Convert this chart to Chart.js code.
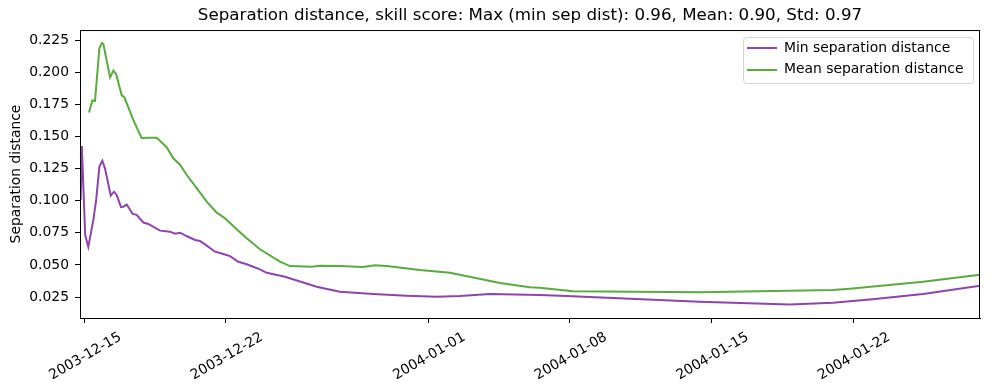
<!DOCTYPE html>
<html>
<head>
<meta charset="utf-8">
<script src="https://cdn.jsdelivr.net/npm/chart.js@4.4.1/dist/chart.umd.min.js"></script>
<style>
    html, body { margin: 0; padding: 0; background: #fff; }
    #wrap { width: 989px; height: 390px; }
</style>
</head>
<body>
<div id="wrap"><canvas id="sepChart" width="989" height="390"></canvas></div>
<script>
// values
var minTimes = ['2003-12-14 19:40', '2003-12-14 21:00', '2003-12-15 01:00', '2003-12-15 04:40', '2003-12-15 10:40',
    '2003-12-15 14:00', '2003-12-15 17:50', '2003-12-15 21:20', '2003-12-16 00:30', '2003-12-16 07:20',
    '2003-12-16 11:10', '2003-12-16 14:20', '2003-12-16 19:30', '2003-12-16 22:10', '2003-12-17 02:20',
    '2003-12-17 09:20', '2003-12-17 14:00', '2003-12-17 22:00', '2003-12-18 03:50', '2003-12-18 17:50',
    '2003-12-19 05:40', '2003-12-19 11:30', '2003-12-19 17:30', '2003-12-20 01:20', '2003-12-20 11:20',
    '2003-12-20 17:10', '2003-12-21 01:10', '2003-12-21 11:00', '2003-12-21 20:50', '2003-12-22 04:50',
    '2003-12-22 14:40', '2003-12-23 00:40', '2003-12-23 08:20', '2003-12-23 16:20', '2003-12-24 00:20',
    '2003-12-24 22:00', '2003-12-26 11:30', '2003-12-27 15:00', '2003-12-29 06:45', '2003-12-30 22:15',
    '2004-01-01 10:00', '2004-01-02 13:30', '2004-01-04 01:00', '2004-01-06 12:00', '2004-01-07 20:00',
    '2004-01-14 10:00', '2004-01-18 20:40', '2004-01-21 00:00', '2004-01-22 23:00', '2004-01-25 11:00',
    '2004-01-28 06:30'];
var minValues = [0.1006, 0.1426, 0.0733, 0.0640, 0.0850,
    0.1006, 0.1265, 0.1310, 0.1250, 0.1040,
    0.1070, 0.1045, 0.0950, 0.0953, 0.0970,
    0.0897, 0.0890, 0.0830, 0.0819, 0.0767,
    0.0759, 0.0743, 0.0751, 0.0725, 0.0694,
    0.0686, 0.0650, 0.0603, 0.0585, 0.0569,
    0.0525, 0.0505, 0.0486, 0.0466, 0.0439,
    0.0408, 0.0330, 0.0291, 0.0273, 0.0260,
    0.0252, 0.0258, 0.0273, 0.0266, 0.0258,
    0.0213, 0.0193, 0.0206, 0.0232, 0.0273,
    0.0338];

var meanTimes = ['2003-12-15 05:30', '2003-12-15 09:30', '2003-12-15 12:40', '2003-12-15 17:50', '2003-12-15 20:40',
    '2003-12-15 22:30', '2003-12-16 06:30', '2003-12-16 10:25', '2003-12-16 13:35', '2003-12-16 20:20',
    '2003-12-16 23:25', '2003-12-17 10:00', '2003-12-17 20:00', '2003-12-18 01:10', '2003-12-18 13:50',
    '2003-12-19 01:40', '2003-12-19 09:30', '2003-12-19 17:30', '2003-12-20 01:25', '2003-12-20 13:15',
    '2003-12-21 01:10', '2003-12-21 13:00', '2003-12-21 22:50', '2003-12-22 12:40', '2003-12-23 00:35',
    '2003-12-23 16:20', '2003-12-24 16:00', '2003-12-25 04:00', '2003-12-26 05:40', '2003-12-26 15:30',
    '2003-12-27 15:10', '2003-12-28 18:45', '2003-12-29 08:40', '2003-12-29 22:30', '2003-12-31 14:10',
    '2004-01-02 01:40', '2004-01-03 05:20', '2004-01-04 13:00', '2004-01-06 00:30', '2004-01-06 12:00',
    '2004-01-08 03:50', '2004-01-14 10:00', '2004-01-21 00:00', '2004-01-21 20:00', '2004-01-25 11:00',
    '2004-01-28 06:30'];
var meanValues = [0.1686, 0.1780, 0.1777, 0.2187, 0.2226,
    0.2220, 0.1960, 0.2013, 0.1987, 0.1820,
    0.1806, 0.1629, 0.1486, 0.1490, 0.1490,
    0.1416, 0.1330, 0.1280, 0.1200, 0.1097,
    0.0992, 0.0907, 0.0863, 0.0777, 0.0707,
    0.0622, 0.0525, 0.0491, 0.0486, 0.0494,
    0.0491, 0.0484, 0.0497, 0.0491, 0.0460,
    0.0439, 0.0403, 0.0360, 0.0326, 0.0322,
    0.0295, 0.0287, 0.0305, 0.0315, 0.0369,
    0.0424];

var xTickLabels = ['2003-12-15', '2003-12-22', '2004-01-01', '2004-01-08', '2004-01-15', '2004-01-22'];
var yTicks = [0.025, 0.050, 0.075, 0.100, 0.125, 0.150, 0.175, 0.200, 0.225];
var xStart = '2003-12-14 18:50';
var xEnd = '2004-01-28 06:30';

function toMs(s) {
    var p = s.split(/[- :]/).map(Number);
    return Date.UTC(p[0], p[1] - 1, p[2], p[3] || 0, p[4] || 0);
}

function fmtDate(ms) {
    var d = new Date(ms);
    var mm = ('0' + (d.getUTCMonth() + 1)).slice(-2);
    var dd = ('0' + d.getUTCDate()).slice(-2);
    return d.getUTCFullYear() + '-' + mm + '-' + dd;
}

function pairs(times, values) {
    return times.map((t, i) => ({ x: toMs(t), y: values[i] }));
}

var font = "'DejaVu Sans', sans-serif";
var fontSize = 13.9;

// legend sits inside the plot, top right, with a thin grey frame like matplotlib;
// the title is centred over the plot area rather than the whole canvas
var axesFrame = {
    id: 'axesFrame',
    afterLayout: function (chart) {
        var lg = chart.legend, area = chart.chartArea;
        if (chart.titleBlock) {
            chart.titleBlock.left = area.left;
            chart.titleBlock.right = area.right;
        }
        if (!lg) return;
        var h = lg.height;
        lg.left = area.right - 241;
        lg.top = area.top + 3;
        lg.right = lg.left + lg.width;
        lg.bottom = lg.top + h;
    },
    beforeDraw: function (chart) {
        var area = chart.chartArea, c = chart.ctx;
        var x = area.right - 237, y = area.top + 7, w = 230, h = 46, r = 3;
        c.save();
        c.beginPath();
        c.roundRect(x + 0.5, y + 0.5, w, h, r);
        c.fillStyle = '#fff';
        c.fill();
        c.strokeStyle = '#d6d6d6';
        c.lineWidth = 1;
        c.stroke();
        c.restore();
    },
    afterDraw: function (chart) {
        var a = chart.chartArea, c = chart.ctx;
        c.save();
        c.strokeStyle = '#000';
        c.lineWidth = 1;
        c.strokeRect(a.left + 0.5, a.top + 0.5, a.right - a.left - 1, a.bottom - a.top);
        c.restore();
    }
};

var ctx = document.getElementById('sepChart').getContext('2d');

new Chart(ctx, {
    type: 'line',
    data: {
        datasets: [{
            label: 'Min separation distance',
            data: pairs(minTimes, minValues),
            borderColor: '#8e44ad',
            backgroundColor: '#8e44ad',
            borderWidth: 2,
            pointRadius: 0,
            pointStyle: 'line',
            tension: 0
        }, {
            label: 'Mean separation distance',
            data: pairs(meanTimes, meanValues),
            borderColor: '#5aaa3f',
            backgroundColor: '#5aaa3f',
            borderWidth: 2,
            pointRadius: 0,
            pointStyle: 'line',
            tension: 0
        }]
    },
    options: {
        responsive: false,
        animation: false,
        devicePixelRatio: 1,
        layout: {
            padding: { left: 0, right: 9, top: 0, bottom: 0 }
        },
        scales: {
            x: {
                type: 'linear',
                min: toMs(xStart),
                max: toMs(xEnd),
                afterBuildTicks: function (scale) {
                    scale.ticks = xTickLabels.map(d => ({ value: toMs(d) }));
                },
                afterFit: function (scale) {
                    scale.height = 72;
                },
                grid: {
                    display: true,
                    drawOnChartArea: false,
                    drawTicks: true,
                    tickLength: 5,
                    color: '#000'
                },
                border: { display: true, color: '#000', width: 1 },
                ticks: {
                    autoSkip: false,
                    minRotation: 30,
                    maxRotation: 30,
                    labelOffset: 36,
                    padding: 6,
                    color: '#000',
                    font: { family: font, size: fontSize },
                    callback: function (value) {
                        return fmtDate(value);
                    }
                }
            },
            y: {
                min: 0.0087,
                max: 0.2328,
                afterBuildTicks: function (scale) {
                    scale.ticks = yTicks.map(v => ({ value: v }));
                },
                afterFit: function (scale) {
                    scale.width = 80;
                },
                grid: {
                    display: true,
                    drawOnChartArea: false,
                    drawTicks: true,
                    tickLength: 5,
                    color: '#000'
                },
                border: { display: true, color: '#000', width: 1 },
                ticks: {
                    padding: 6,
                    color: '#000',
                    font: { family: font, size: fontSize },
                    callback: function (value) {
                        return value.toFixed(3);
                    }
                },
                title: {
                    display: true,
                    text: 'Separation distance',
                    color: '#000',
                    font: { family: font, size: fontSize },
                    padding: { top: 8, bottom: 0 }
                }
            }
        },
        plugins: {
            title: {
                display: true,
                text: 'Separation distance, skill score: Max (min sep dist): 0.96, Mean: 0.90, Std: 0.97',
                color: '#000',
                font: { family: font, size: 16.7, weight: 'normal' },
                padding: { top: 6, bottom: 4 }
            },
            legend: {
                position: 'chartArea',
                align: 'start',
                labels: {
                    usePointStyle: true,
                    pointStyleWidth: 30,
                    padding: 8,
                    color: '#000',
                    font: { family: font, size: fontSize }
                }
            },
            tooltip: { enabled: false }
        }
    },
    plugins: [axesFrame]
});
</script>
</body>
</html>
